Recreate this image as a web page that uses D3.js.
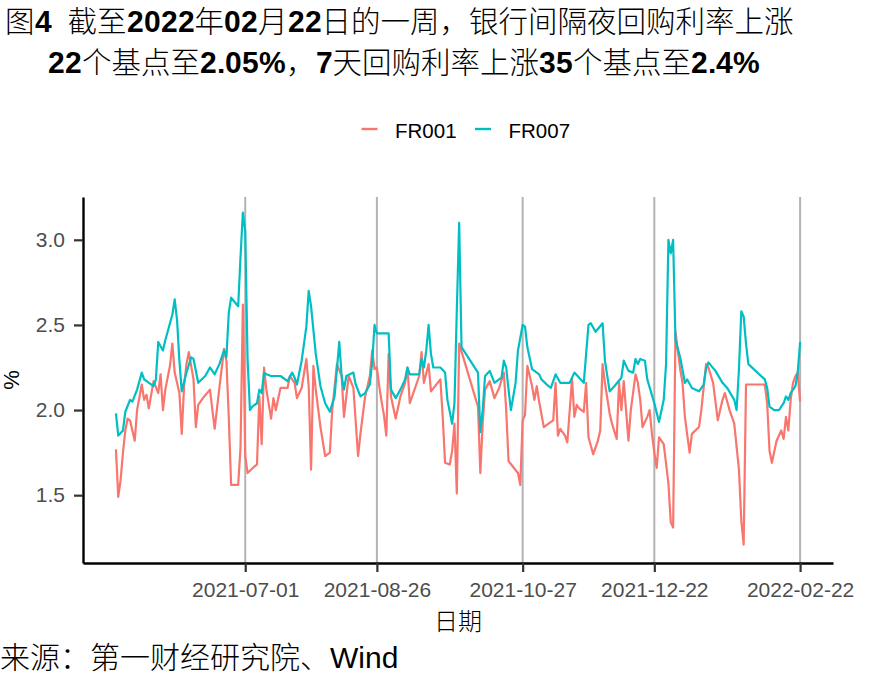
<!DOCTYPE html>
<html><head><meta charset="utf-8">
<script src="https://cdn.jsdelivr.net/npm/d3@7"></script>
<style>
@font-face { font-family: "LatinBold"; src: local("Liberation Sans Bold"), local("LiberationSans-Bold"); font-weight: 100 900; unicode-range: U+0020-007E; }
html,body{margin:0;padding:0;background:#fff;}
svg{display:block;}
</style>
</head><body>
<svg id="chart" width="885" height="688"></svg>
<script>
const titleLines = ["图4  截至2022年02月22日的一周，银行间隔夜回购利率上涨", "22个基点至2.05%，7天回购利率上涨35个基点至2.4%"];
const seriesNames = ["FR001", "FR007"];
const seriesColors = ["#F8766D", "#00BFC4"];
const xTickDates = ["2021-07-01","2021-08-26","2021-10-27","2021-12-22","2022-02-22"];
const yTicks = [1.5, 2.0, 2.5, 3.0];
const xTitle = "日期", yTitle = "%", sourceNote = "来源：第一财经研究院、Wind";

const fr001Dates = [
"2021-05-07","2021-05-08","2021-05-09","2021-05-10","2021-05-11","2021-05-12","2021-05-13","2021-05-15","2021-05-16","2021-05-18",
"2021-05-19","2021-05-20","2021-05-21","2021-05-23","2021-05-25","2021-05-26","2021-05-27","2021-05-28","2021-05-30","2021-05-31",
"2021-06-01","2021-06-03","2021-06-04","2021-06-05","2021-06-06","2021-06-07","2021-06-09","2021-06-10","2021-06-11","2021-06-13",
"2021-06-16","2021-06-18","2021-06-20","2021-06-22","2021-06-23","2021-06-24","2021-06-25","2021-06-28","2021-06-29","2021-06-30",
"2021-07-01","2021-07-02","2021-07-05","2021-07-06","2021-07-07","2021-07-08","2021-07-09","2021-07-10","2021-07-12","2021-07-13",
"2021-07-14","2021-07-16","2021-07-19","2021-07-20","2021-07-22","2021-07-23","2021-07-25","2021-07-27","2021-07-28","2021-07-29",
"2021-07-30","2021-07-31","2021-08-02","2021-08-04","2021-08-06","2021-08-07","2021-08-09","2021-08-11","2021-08-12","2021-08-14",
"2021-08-16","2021-08-18","2021-08-19","2021-08-21","2021-08-23","2021-08-24","2021-08-25","2021-08-26","2021-08-27","2021-08-28",
"2021-08-29","2021-08-30","2021-08-31","2021-09-01","2021-09-03","2021-09-05","2021-09-07","2021-09-08","2021-09-09","2021-09-11",
"2021-09-13","2021-09-14","2021-09-15","2021-09-17","2021-09-18","2021-09-22","2021-09-23","2021-09-24","2021-09-26","2021-09-27",
"2021-09-28","2021-09-29","2021-09-30","2021-10-08","2021-10-09","2021-10-10","2021-10-11","2021-10-13","2021-10-15","2021-10-17",
"2021-10-19","2021-10-20","2021-10-21","2021-10-25","2021-10-26","2021-10-27","2021-10-28","2021-10-29","2021-10-31","2021-11-01",
"2021-11-02","2021-11-03","2021-11-05","2021-11-07","2021-11-09","2021-11-10","2021-11-11","2021-11-12","2021-11-14","2021-11-15",
"2021-11-17","2021-11-18","2021-11-19","2021-11-20","2021-11-22","2021-11-23","2021-11-24","2021-11-26","2021-11-28","2021-11-29",
"2021-11-30","2021-12-01","2021-12-03","2021-12-04","2021-12-06","2021-12-07","2021-12-08","2021-12-09","2021-12-11","2021-12-12",
"2021-12-14","2021-12-15","2021-12-16","2021-12-17","2021-12-19","2021-12-20","2021-12-21","2021-12-22","2021-12-23","2021-12-24",
"2021-12-26","2021-12-28","2021-12-29","2021-12-30","2021-12-31","2022-01-02","2022-01-03","2022-01-04","2022-01-06","2022-01-07",
"2022-01-10","2022-01-11","2022-01-13","2022-01-14","2022-01-16","2022-01-18","2022-01-20","2022-01-21","2022-01-23","2022-01-25",
"2022-01-27","2022-01-28","2022-01-29","2022-01-30","2022-02-07","2022-02-08","2022-02-09","2022-02-10","2022-02-12","2022-02-14",
"2022-02-15","2022-02-16","2022-02-17","2022-02-18","2022-02-19","2022-02-20","2022-02-21","2022-02-22"];
const fr001Values = [
1.77,1.49,1.59,1.75,1.88,1.95,1.94,1.82,2.00,2.15,
2.06,2.09,2.01,2.17,2.10,2.21,2.00,2.12,2.26,2.39,
2.22,2.10,1.86,2.14,2.27,2.34,2.18,1.90,2.03,2.07,
2.12,1.89,2.13,2.36,2.29,1.96,1.56,1.56,1.78,2.62,
1.73,1.63,1.67,1.68,2.08,1.80,2.25,2.12,1.95,2.07,
2.00,2.13,2.13,2.20,2.16,2.07,2.13,2.30,2.14,1.65,
2.26,2.12,1.90,1.73,1.75,2.00,2.27,2.20,1.96,2.20,
2.13,1.73,1.86,2.08,2.20,2.35,2.24,2.25,2.14,2.05,
1.97,1.85,2.33,2.08,1.95,2.08,2.16,2.25,2.04,2.12,
2.20,2.34,2.16,2.27,2.11,2.18,1.96,1.69,1.68,1.76,
1.92,1.51,2.39,2.02,1.63,1.92,2.12,2.17,2.07,2.13,
2.22,2.00,1.70,1.63,1.56,1.94,1.97,2.26,2.14,2.06,
2.14,2.05,1.90,1.92,1.94,2.16,1.85,1.89,1.85,1.81,
2.18,1.96,2.03,2.01,1.99,2.16,1.84,1.74,1.82,1.88,
2.27,2.16,1.98,1.92,1.83,2.16,2.00,2.17,1.82,2.00,
2.21,2.16,2.06,1.90,1.96,2.00,1.86,1.75,1.66,1.84,
1.80,1.57,1.34,1.31,2.46,2.24,2.16,1.96,1.75,1.86,
1.90,2.00,2.27,2.25,2.16,1.94,2.06,2.10,2.00,1.92,
1.65,1.35,1.21,2.15,2.15,2.04,1.76,1.69,1.82,1.88,
1.83,1.96,1.88,2.06,2.16,2.20,2.22,2.05];

const fr007Dates = [
"2021-05-07","2021-05-08","2021-05-10","2021-05-11","2021-05-13","2021-05-14","2021-05-16","2021-05-18","2021-05-19","2021-05-23",
"2021-05-24","2021-05-25","2021-05-27","2021-05-28","2021-05-30","2021-05-31","2021-06-01","2021-06-02","2021-06-03","2021-06-04",
"2021-06-06","2021-06-08","2021-06-09","2021-06-11","2021-06-14","2021-06-16","2021-06-18","2021-06-20","2021-06-22","2021-06-23",
"2021-06-24","2021-06-25","2021-06-28","2021-06-29","2021-06-30","2021-07-01","2021-07-02","2021-07-03","2021-07-04","2021-07-06",
"2021-07-07","2021-07-08","2021-07-09","2021-07-10","2021-07-12","2021-07-16","2021-07-19","2021-07-21","2021-07-22","2021-07-23",
"2021-07-25","2021-07-27","2021-07-28","2021-07-29","2021-07-31","2021-08-02","2021-08-04","2021-08-06","2021-08-08","2021-08-09",
"2021-08-10","2021-08-11","2021-08-12","2021-08-13","2021-08-16","2021-08-17","2021-08-19","2021-08-21","2021-08-23","2021-08-24",
"2021-08-25","2021-08-26","2021-08-31","2021-09-01","2021-09-03","2021-09-05","2021-09-07","2021-09-08","2021-09-09","2021-09-13",
"2021-09-14","2021-09-15","2021-09-16","2021-09-17","2021-09-18","2021-09-19","2021-09-22","2021-09-24","2021-09-25","2021-09-27",
"2021-09-28","2021-09-29","2021-09-30","2021-10-01","2021-10-08","2021-10-09","2021-10-10","2021-10-11","2021-10-13","2021-10-15",
"2021-10-18","2021-10-19","2021-10-20","2021-10-21","2021-10-22","2021-10-24","2021-10-25","2021-10-27","2021-10-28","2021-10-29",
"2021-10-31","2021-11-03","2021-11-04","2021-11-07","2021-11-08","2021-11-10","2021-11-12","2021-11-16","2021-11-18","2021-11-22",
"2021-11-24","2021-11-25","2021-11-27","2021-11-30","2021-12-01","2021-12-03","2021-12-05","2021-12-08","2021-12-09","2021-12-11",
"2021-12-13","2021-12-14","2021-12-15","2021-12-16","2021-12-18","2021-12-19","2021-12-22","2021-12-24","2021-12-26","2021-12-27",
"2021-12-28","2021-12-29","2021-12-30","2021-12-31","2022-01-02","2022-01-04","2022-01-05","2022-01-07","2022-01-10","2022-01-12",
"2022-01-13","2022-01-14","2022-01-17","2022-01-20","2022-01-22","2022-01-25","2022-01-26","2022-01-27","2022-01-28","2022-01-29",
"2022-01-30","2022-01-31","2022-02-07","2022-02-08","2022-02-09","2022-02-11","2022-02-13","2022-02-15","2022-02-16","2022-02-17",
"2022-02-18","2022-02-20","2022-02-21","2022-02-22"];
const fr007Values = [
1.98,1.85,1.88,1.99,2.06,2.05,2.12,2.22,2.18,2.14,
2.18,2.40,2.35,2.41,2.51,2.56,2.65,2.53,2.29,2.11,
2.22,2.31,2.30,2.16,2.20,2.25,2.21,2.27,2.35,2.31,
2.57,2.66,2.61,2.90,3.16,3.05,2.30,2.00,2.02,2.04,
2.12,2.10,2.22,2.21,2.20,2.20,2.17,2.22,2.19,2.15,
2.29,2.49,2.70,2.61,2.33,2.14,2.04,1.99,2.08,2.24,
2.40,2.20,2.12,2.20,2.22,2.15,2.08,2.10,2.15,2.28,
2.50,2.45,2.45,2.12,2.07,2.12,2.18,2.25,2.21,2.21,
2.30,2.25,2.35,2.50,2.33,2.25,2.25,2.22,2.06,1.92,
2.04,2.59,3.10,2.37,2.22,1.87,2.00,2.20,2.23,2.16,
2.19,2.29,2.25,2.12,2.00,2.16,2.35,2.50,2.49,2.37,
2.24,2.21,2.18,2.14,2.13,2.21,2.16,2.16,2.22,2.16,
2.50,2.51,2.46,2.51,2.29,2.11,2.14,2.19,2.29,2.23,
2.22,2.30,2.27,2.30,2.29,2.18,2.04,1.93,2.06,2.27,
3.00,2.92,3.00,2.41,2.31,2.16,2.18,2.13,2.11,2.15,
2.24,2.28,2.23,2.16,2.13,2.06,2.00,2.24,2.58,2.55,
2.39,2.27,2.18,2.13,2.02,2.00,2.00,2.04,2.08,2.06,
2.10,2.14,2.22,2.40];

const parse = d3.utcParse("%Y-%m-%d");
const fmt = d3.utcFormat("%Y-%m-%d");
const series = [
  {name: seriesNames[0], color: seriesColors[0], data: fr001Dates.map((d,i)=>({date: parse(d), value: fr001Values[i]}))},
  {name: seriesNames[1], color: seriesColors[1], data: fr007Dates.map((d,i)=>({date: parse(d), value: fr007Values[i]}))}
];

const svg = d3.select("#chart");
const latin = '"Liberation Sans", Arial, "Noto Sans CJK SC", sans-serif';
const cjk = '"Liberation Sans", "Noto Sans CJK SC", sans-serif';

const panel = {left: 83, right: 833, top: 197, bottom: 563};
const x = d3.scaleUtc().domain([parse("2021-04-23"), parse("2022-03-08")]).range([panel.left, panel.right]);
const y = d3.scaleLinear().domain([1.1016, 3.2515]).range([panel.bottom, panel.top]);
const xTicks = xTickDates.map(parse);

// title
svg.selectAll("text.title").data(titleLines).join("text")
  .attr("class","title")
  .attr("x",(d,i)=> i===0 ? 5 : 48)
  .attr("y",(d,i)=> i===0 ? 32 : 73)
  .style("white-space","pre")
  .attr("font-family",'"LatinBold", "Noto Sans CJK SC", sans-serif')
  .attr("font-weight",300)
  .attr("font-size", 29.5)
  .attr("fill","#000")
  .text(d=>d);

// legend
const legX = [361.5, 475];
const leg = svg.append("g").selectAll("g").data(series).join("g");
leg.append("line")
  .attr("x1",(d,i)=>legX[i]).attr("x2",(d,i)=>legX[i]+16)
  .attr("y1",129).attr("y2",129)
  .attr("stroke",d=>d.color).attr("stroke-width",2.4);
leg.append("text")
  .attr("x",(d,i)=>legX[i]+33.5).attr("y",138)
  .attr("font-family",latin).attr("font-size",20.5).attr("fill","#000")
  .text(d=>d.name);

// grid
svg.append("g").selectAll("line").data(xTicks).join("line")
  .attr("x1",d=>x(d)).attr("x2",d=>x(d))
  .attr("y1",panel.top).attr("y2",panel.bottom)
  .attr("stroke","#b3b3b3").attr("stroke-width",2);

// lines
const line = d3.line().x(d=>x(d.date)).y(d=>y(d.value));
svg.append("g").selectAll("path").data(series).join("path")
  .attr("d",d=>line(d.data))
  .attr("fill","none").attr("stroke",d=>d.color)
  .attr("stroke-width",2.2).attr("stroke-linejoin","round");

// axes
const gx = svg.append("g").attr("transform",`translate(0,${panel.bottom})`)
  .call(d3.axisBottom(x).tickValues(xTicks).tickFormat(fmt).tickSize(9).tickSizeOuter(0).tickPadding(10));
const gy = svg.append("g").attr("transform",`translate(${panel.left},0)`)
  .call(d3.axisLeft(y).tickValues(yTicks).tickFormat(d3.format(".1f")).tickSize(9).tickSizeOuter(0).tickPadding(9));
[gx, gy].forEach(g=>{
  g.select(".domain").attr("stroke","#000").attr("stroke-width",2.4);
  g.selectAll(".tick line").attr("stroke","#333").attr("stroke-width",2.2);
  g.selectAll(".tick text").attr("fill","#4d4d4d").attr("font-size",21).attr("font-family",latin);
});

// axis titles
svg.append("text").attr("x",(panel.left+panel.right)/2).attr("y",630)
  .attr("text-anchor","middle").attr("font-family",cjk).attr("font-weight",300).attr("font-size",24).attr("fill","#000")
  .text(xTitle);
svg.append("text").attr("transform",`translate(19,${(panel.top+panel.bottom)/2}) rotate(-90)`)
  .attr("text-anchor","middle").attr("font-family",latin).attr("font-size",22).attr("fill","#000")
  .text(yTitle);

// source
svg.append("text").attr("x",0).attr("y",668)
  .attr("font-family",cjk).attr("font-weight",300).attr("font-size",30).attr("fill","#000")
  .text(sourceNote);
</script>
</body></html>
